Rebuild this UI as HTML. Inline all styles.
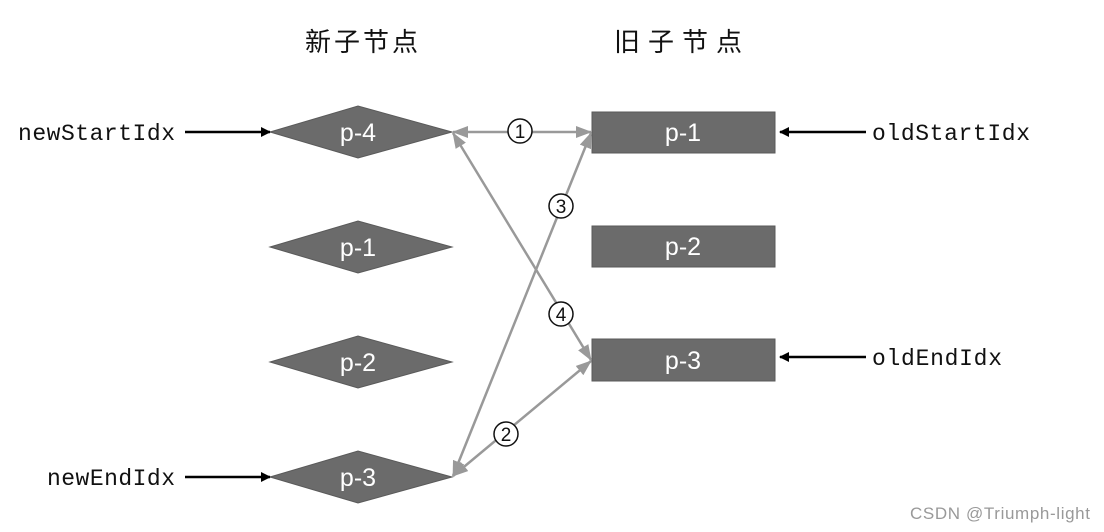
<!DOCTYPE html>
<html><head><meta charset="utf-8"><style>
html,body{margin:0;padding:0;background:#fff;}
svg{display:block;}
</style></head><body>
<svg width="1104" height="532" viewBox="0 0 1104 532" xmlns="http://www.w3.org/2000/svg">
<defs>
<marker id="bk" markerWidth="10" markerHeight="10" refX="9" refY="5" orient="auto" markerUnits="userSpaceOnUse"><path d="M0,0 L10,5 L0,10 Z" fill="#000"/></marker>
<marker id="gr" markerWidth="16" markerHeight="12" refX="15" refY="6" orient="auto-start-reverse" markerUnits="userSpaceOnUse"><path d="M0,0 L16,6 L0,12 Z" fill="#999"/></marker>
</defs>
<rect width="1104" height="532" fill="#fff"/>
<g font-family="'Liberation Sans','Noto Sans CJK SC',sans-serif" font-size="26" fill="#111">
<text x="305" y="51" textLength="113">新子节点</text>
<text x="614" y="51" textLength="128">旧子节点</text>
</g>
<g fill="#6b6b6b" stroke="#5a5a5a" stroke-width="1">
<polygon points="270,132 358,106 452,132 358,158"/>
<polygon points="270,247 358,221 452,247 358,273"/>
<polygon points="270,362 358,336 452,362 358,388"/>
<polygon points="270,477 358,451 452,477 358,503"/>
<rect x="592" y="112" width="183" height="41"/>
<rect x="592" y="226" width="183" height="41"/>
<rect x="592" y="339" width="183" height="42"/>
</g>
<g font-family="'Liberation Sans',sans-serif" font-size="25" fill="#fff" text-anchor="middle">
<text x="358" y="141">p-4</text>
<text x="358" y="256">p-1</text>
<text x="358" y="371">p-2</text>
<text x="358" y="486">p-3</text>
<text x="683" y="141">p-1</text>
<text x="683" y="255">p-2</text>
<text x="683" y="369">p-3</text>
</g>
<g stroke="#999" stroke-width="2.5" fill="none">
<line x1="453" y1="132" x2="591" y2="132" marker-start="url(#gr)" marker-end="url(#gr)"/>
<line x1="453" y1="476" x2="591" y2="133" marker-start="url(#gr)" marker-end="url(#gr)"/>
<line x1="453" y1="133" x2="591" y2="360" marker-start="url(#gr)" marker-end="url(#gr)"/>
<line x1="453" y1="476" x2="591" y2="361" marker-start="url(#gr)" marker-end="url(#gr)"/>
</g>
<g fill="#fff" stroke="#111" stroke-width="1.5">
<circle cx="520" cy="131" r="12"/>
<circle cx="561" cy="206" r="12"/>
<circle cx="561" cy="314" r="12"/>
<circle cx="506" cy="434" r="12"/>
</g>
<g font-family="'Liberation Sans',sans-serif" font-size="19" fill="#111" text-anchor="middle">
<text x="520" y="138">1</text>
<text x="561" y="213">3</text>
<text x="561" y="321">4</text>
<text x="506" y="441">2</text>
</g>
<g stroke="#000" stroke-width="2.5">
<line x1="185" y1="132" x2="270" y2="132" marker-end="url(#bk)"/>
<line x1="185" y1="477" x2="270" y2="477" marker-end="url(#bk)"/>
<line x1="866" y1="132" x2="780" y2="132" marker-end="url(#bk)"/>
<line x1="866" y1="357" x2="780" y2="357" marker-end="url(#bk)"/>
</g>
<g font-family="'Liberation Mono','DejaVu Sans Mono',monospace" font-size="23" fill="#111">
<text x="18" y="140" textLength="157">newStartIdx</text>
<text x="47" y="485" textLength="128">newEndIdx</text>
<text x="872" y="140" textLength="158">oldStartIdx</text>
<text x="872" y="365" textLength="130">oldEndIdx</text>
</g>
<text x="910" y="519" font-family="'Liberation Sans',sans-serif" font-size="17" fill="#999" textLength="180">CSDN @Triumph-light</text>
</svg>
</body></html>
